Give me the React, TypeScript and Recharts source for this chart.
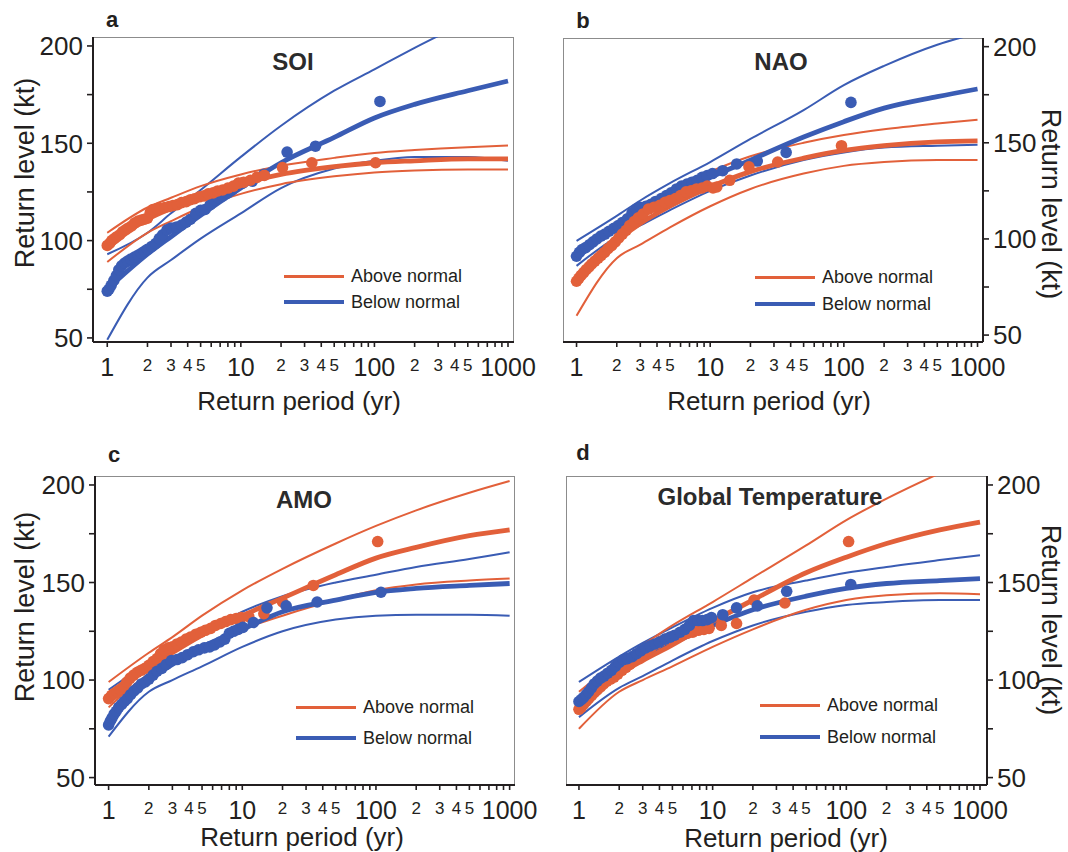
import React from 'react';
import { ComposedChart, Line, Scatter, XAxis, YAxis } from 'recharts';

const ORANGE = '#E2603A';
const BLUE = '#3A5CB4';
const INK = '#231f20';
const FONT = '"Liberation Sans", Arial, Helvetica, sans-serif';

const RETURN_PERIODS = [1, 2, 3, 5, 10, 20, 50, 100, 200, 500, 1000];

const X_TICKS = [1, 2, 3, 4, 5, 6, 7, 8, 9, 10, 20, 30, 40, 50, 60, 70, 80, 90, 100, 200, 300, 400, 500, 600, 700, 800, 900, 1000];
const X_TICK_LABELS = ['1', '2', '3', '4', '5', '', '', '', '', '10', '2', '3', '4', '5', '', '', '', '', '100', '2', '3', '4', '5', '', '', '', '', '1000'];
const X_MAJOR = [1, 10, 100, 1000];
const Y_TICKS = [50, 75, 100, 125, 150, 175, 200];
const Y_TICK_LABELS = ['50', '', '100', '', '150', '', '200'];

// ---- a: SOI ----
const soiAbovePts = [
  [1.0, 97.5], [1.04, 98.5], [1.08, 100], [1.13, 101], [1.18, 102], [1.24, 103], [1.3, 104.5], [1.37, 105.5],
  [1.44, 106.5], [1.52, 107.5], [1.6, 109], [1.7, 110], [1.8, 110.5], [1.9, 111], [2.0, 111.5], [2.1, 114.5],
  [2.2, 116], [2.35, 116.5], [2.5, 116.5], [2.7, 117], [2.9, 117.5], [3.1, 118], [3.35, 118.5], [3.6, 119.5],
  [3.9, 120], [4.2, 121], [4.5, 121.5], [4.9, 122.5], [5.3, 123], [5.7, 124], [6.2, 124.5], [6.7, 125.5],
  [7.3, 126], [8.0, 127], [8.8, 128], [9.6, 129.5], [10.5, 130], [11.8, 131], [13.2, 132.5], [15, 133.5],
  [20.5, 137.5], [34, 140], [102, 140],
];
const soiBelowPts = [
  [1.0, 74], [1.03, 75], [1.07, 77], [1.12, 79.5], [1.17, 82], [1.22, 85], [1.28, 87], [1.35, 88.5],
  [1.42, 89.5], [1.5, 90.5], [1.6, 91.5], [1.7, 92.5], [1.8, 93.5], [1.9, 94.5], [2.0, 95.5], [2.15, 97],
  [2.3, 98.5], [2.45, 101], [2.6, 103], [2.8, 105.5], [3.0, 106.5], [3.3, 107], [3.6, 108], [3.9, 109.5],
  [4.2, 111], [4.6, 114], [5.0, 115.5], [5.4, 116], [5.9, 118.5], [6.3, 121], [6.8, 122], [7.3, 123],
  [8.0, 124.5], [8.6, 126], [9.4, 128.5], [10.3, 129.5], [12.2, 130.5], [14.9, 134], [22.2, 145.5],
  [36.2, 148.5], [110, 171.5],
];
const soiAboveFit = [97, 111, 116.5, 122, 129, 134, 138, 140, 141, 142, 142];
const soiAboveHi = [104, 117, 122, 128, 134, 138.5, 142.5, 145, 146.5, 148, 148.8];
const soiAboveLo = [89, 104, 110, 117, 124, 129, 133, 135, 136, 136.5, 136.5];
const soiBelowFit = [75, 93, 102, 113, 127, 140, 153, 163, 170, 177, 182];
const soiBelowHi = [93, 104, 114, 126, 143, 159, 177, 188, 199, 213, 225];
const soiBelowLo = [49, 81, 90, 101, 114, 127, 137, 141, 143, 143, 141];

// ---- b: NAO ----
const naoAbovePts = [
  [1.0, 78], [1.04, 79.5], [1.08, 81], [1.13, 82.5], [1.18, 84], [1.24, 85.5], [1.3, 87], [1.37, 88.5],
  [1.45, 90], [1.53, 91.5], [1.62, 93], [1.72, 95], [1.83, 96.5], [1.95, 98.5], [2.07, 100.5], [2.2, 102.5],
  [2.35, 104.5], [2.5, 107], [2.7, 109], [2.9, 111], [3.15, 113], [3.45, 115.5], [3.8, 116.5], [4.2, 117.5],
  [4.6, 119], [5.0, 120], [5.5, 121], [6.0, 122.5], [6.6, 124.5], [7.2, 125], [7.9, 126], [8.7, 126.5],
  [9.5, 127.5], [10.5, 126.5], [11.2, 127], [14, 130.5], [19.5, 137.5], [32, 140], [96, 148.5],
];
const naoBelowPts = [
  [1.0, 91], [1.05, 93], [1.1, 94.5], [1.17, 95.5], [1.25, 97], [1.33, 98.5], [1.42, 100], [1.52, 101.5],
  [1.63, 102.5], [1.75, 104], [1.9, 105.5], [2.05, 107], [2.2, 108.5], [2.4, 110.5], [2.6, 113.5], [2.8, 115.5],
  [3.0, 116.5], [3.3, 117], [3.6, 118], [3.9, 119.5], [4.3, 121], [4.7, 122.5], [5.1, 124], [5.6, 126],
  [6.1, 127.5], [6.7, 128.5], [7.3, 129.5], [8.0, 130.5], [8.7, 132], [9.5, 133], [10.4, 134], [12.4, 135.5],
  [15.8, 139], [22.5, 140.5], [37, 145], [113, 171],
];
const naoAboveFit = [79, 99, 108, 117, 127, 135, 142, 146, 148.5, 150.5, 151];
const naoAboveHi = [93, 108, 116, 125, 135, 143, 150, 154, 157, 160, 162];
const naoAboveLo = [60, 90, 97, 106, 117, 126, 134, 138, 140, 141, 141];
const naoBelowFit = [93, 107, 114, 121, 132, 141, 153, 161, 168, 174, 178];
const naoBelowHi = [99, 112, 120, 129, 140, 152, 167, 180, 190, 201, 207];
const naoBelowLo = [86, 101, 107, 115, 125, 133, 141, 145, 147.5, 148.5, 149];

// ---- c: AMO ----
const amoAbovePts = [
  [1.0, 90.5], [1.05, 92], [1.1, 93], [1.16, 94], [1.23, 95], [1.3, 96.5], [1.37, 99], [1.45, 101],
  [1.54, 102.5], [1.64, 104], [1.75, 105], [1.87, 106], [2.0, 107.5], [2.15, 109.5], [2.3, 111], [2.45, 113.5],
  [2.6, 115.5], [2.8, 116.5], [3.0, 117], [3.25, 118.5], [3.5, 119.5], [3.8, 121], [4.1, 122], [4.5, 123.5],
  [4.9, 124.5], [5.3, 125.5], [5.8, 126.5], [6.3, 128], [6.9, 129], [7.5, 130], [8.2, 131], [9.0, 131.5],
  [9.8, 132], [11.2, 132.5], [14.5, 134], [20, 140], [34, 148.5], [103, 171],
];
const amoBelowPts = [
  [1.0, 77], [1.03, 79], [1.06, 80.5], [1.1, 82.5], [1.14, 84], [1.19, 86], [1.25, 87.5], [1.31, 89],
  [1.38, 90.5], [1.46, 92.5], [1.55, 94.5], [1.65, 96], [1.76, 98], [1.88, 99], [2.0, 100.5], [2.15, 102.5],
  [2.3, 104.5], [2.5, 106], [2.7, 108], [2.95, 110], [3.25, 110.5], [3.55, 111.5], [3.9, 113], [4.3, 114.5],
  [4.7, 115.5], [5.2, 116.5], [5.7, 117], [6.2, 118], [6.8, 119.5], [7.4, 121], [8.0, 124], [8.6, 125],
  [9.3, 126], [10.1, 127], [12.1, 129.5], [15.3, 137], [21.3, 138], [36.3, 140], [109, 145],
];
const amoAboveFit = [93, 107, 114, 123, 133, 142, 154, 162.5, 168, 174, 177];
const amoAboveHi = [99, 114, 122, 133, 146, 157, 170, 179, 187, 196, 202];
const amoAboveLo = [86, 103, 109, 117, 126, 133, 141, 146, 149, 151, 152];
const amoBelowFit = [81, 100, 108, 117, 126, 135, 141, 145, 147, 148.5, 149.5];
const amoBelowHi = [95, 109, 116, 124, 135, 143, 150, 154, 158, 162, 165.5];
const amoBelowLo = [71, 94, 100, 107, 117, 125, 131, 133, 133.5, 133.5, 133];

// ---- d: Global Temperature ----
const gtAbovePts = [
  [1.0, 85], [1.04, 86], [1.08, 87.5], [1.13, 89], [1.18, 90.5], [1.24, 92], [1.3, 93.5], [1.37, 95],
  [1.45, 96.5], [1.53, 98], [1.62, 99.5], [1.72, 100.5], [1.83, 101.5], [1.95, 103], [2.1, 105], [2.25, 106.5],
  [2.4, 108], [2.6, 110], [2.8, 111.5], [3.0, 113], [3.25, 115], [3.5, 117], [3.8, 118.5], [4.1, 120],
  [4.5, 121], [4.9, 122], [5.4, 123], [5.9, 123.5], [6.5, 124], [7.1, 124.5], [7.8, 125.5], [8.6, 126],
  [9.4, 126.5], [11.6, 128], [15.1, 129], [20.4, 141], [34.7, 139.5], [104, 171],
];
const gtBelowPts = [
  [1.0, 89], [1.04, 90], [1.08, 91], [1.13, 92.5], [1.18, 94], [1.24, 96], [1.3, 98], [1.37, 99.5],
  [1.45, 101], [1.54, 102], [1.64, 103.5], [1.75, 105], [1.87, 107], [2.0, 109], [2.15, 110.5], [2.3, 111],
  [2.5, 112], [2.7, 113.5], [2.9, 115], [3.15, 116.5], [3.4, 117.5], [3.7, 118.5], [4.0, 119.5], [4.4, 121],
  [4.8, 122], [5.2, 123], [5.7, 124.5], [6.2, 126], [6.7, 128], [7.2, 130.5], [7.8, 130.5], [8.4, 130.5],
  [9.1, 131], [9.8, 132], [11.9, 133.5], [15.1, 137], [21.6, 138], [35.8, 145.5], [108, 149],
];
const gtAboveFit = [87, 103, 110, 118, 130, 141, 155, 163, 170, 177, 181];
const gtAboveHi = [94, 110, 118, 128, 140, 152.5, 169, 182, 193, 206, 215];
const gtAboveLo = [75, 94, 100, 107, 117, 126, 136, 141, 143.5, 144.5, 144];
const gtBelowFit = [90, 106, 112, 119, 128, 136, 143, 147, 149.5, 151, 152];
const gtBelowHi = [99, 112, 119, 127, 137, 145, 151, 155, 158, 161.5, 164];
const gtBelowLo = [81, 96, 102, 110, 120, 128, 135, 138.5, 140, 141, 141];

const toPts = (arr: number[][]) => arr.map(([x, y]) => ({ x, y }));
const toCurve = (vals: number[]) => RETURN_PERIODS.map((x, i) => ({ x, y: vals[i] }));

const PANELS = [
  {
    id: 'a', title: 'SOI', chartLeft: 0, chartTop: 0, box: { l: 93, t: 37, r: 514, b: 342 }, yOrient: 'left',
    xDomain: [0.782, 1109], yDomain: [47.9, 204.6], orangeOnTop: true,
    above: { pts: soiAbovePts, fit: soiAboveFit, hi: soiAboveHi, lo: soiAboveLo },
    below: { pts: soiBelowPts, fit: soiBelowFit, hi: soiBelowHi, lo: soiBelowLo },
    letter: [112, 20], titleAt: [293, 62], legend: [284, 276, 302], xTitle: [299, 401], yTitle: [25, 173],
  },
  {
    id: 'b', title: 'NAO', chartLeft: 534, chartTop: 0, box: { l: 563, t: 38, r: 983, b: 342 }, yOrient: 'right',
    xDomain: [0.792, 1099], yDomain: [46.4, 204.5], orangeOnTop: true,
    above: { pts: naoAbovePts, fit: naoAboveFit, hi: naoAboveHi, lo: naoAboveLo },
    below: { pts: naoBelowPts, fit: naoBelowFit, hi: naoBelowHi, lo: naoBelowLo },
    letter: [583, 21], titleAt: [781, 62], legend: [755, 277, 304], xTitle: [769, 401], yTitle: [1050, 204],
  },
  {
    id: 'c', title: 'AMO', chartLeft: 0, chartTop: 426, box: { l: 95, t: 476, r: 515, b: 785 }, yOrient: 'left',
    xDomain: [0.791, 1097], yDomain: [46.2, 204.6], orangeOnTop: false,
    above: { pts: amoAbovePts, fit: amoAboveFit, hi: amoAboveHi, lo: amoAboveLo },
    below: { pts: amoBelowPts, fit: amoBelowFit, hi: amoBelowHi, lo: amoBelowLo },
    letter: [114, 455], titleAt: [304, 500], legend: [296, 707, 738], xTitle: [302, 837], yTitle: [25, 607],
  },
  {
    id: 'd', title: 'Global Temperature', chartLeft: 534, chartTop: 426, box: { l: 566, t: 476, r: 987, b: 785 }, yOrient: 'right',
    xDomain: [0.8, 1128], yDomain: [46.2, 204.6], orangeOnTop: false,
    above: { pts: gtAbovePts, fit: gtAboveFit, hi: gtAboveHi, lo: gtAboveLo },
    below: { pts: gtBelowPts, fit: gtBelowFit, hi: gtBelowHi, lo: gtBelowLo },
    letter: [583, 453], titleAt: [770, 497], legend: [760, 705, 737], xTitle: [786, 838], yTitle: [1050, 620],
  },
];

const W = 534;
const H = 426;
const YW = 60;
const XH = 40;
const EXTRA = 30; // extra room on the right of left-hand charts so "1000" is not clipped

const renderXTick = (props: any) => {
  const { x, y, payload } = props;
  const i = X_TICKS.indexOf(payload.value);
  const label = i >= 0 ? X_TICK_LABELS[i] : '';
  if (!label) return <g />;
  const major = X_MAJOR.includes(payload.value);
  return (
    <text x={x} y={y + (major ? 27 : 22)} textAnchor="middle" fontSize={major ? 25 : 17} fill={INK} fontFamily={FONT}>
      {label}
    </text>
  );
};

const makeYTick = (orient: string) => (props: any) => {
  const { x, y, payload } = props;
  const i = Y_TICKS.indexOf(payload.value);
  const label = i >= 0 ? Y_TICK_LABELS[i] : '';
  if (!label) return <g />;
  return (
    <text x={x} y={y} dy="0.36em" textAnchor={orient === 'left' ? 'end' : 'start'} fontSize={26} fill={INK} fontFamily={FONT}>
      {label}
    </text>
  );
};

const dot = (color: string) => (p: any) => <circle cx={p.cx} cy={p.cy} r={5.8} fill={color} />;

function Panel({ cfg }: { cfg: any }) {
  const { chartLeft, chartTop, box, yOrient, xDomain, yDomain } = cfg;
  const width = yOrient === 'left' ? W + EXTRA : W;
  const margin =
    yOrient === 'left'
      ? { left: box.l - chartLeft - YW, right: chartLeft + width - box.r, top: box.t - chartTop, bottom: chartTop + H - box.b - XH }
      : { left: box.l - chartLeft, right: chartLeft + width - box.r - YW, top: box.t - chartTop, bottom: chartTop + H - box.b - XH };

  const thin = (vals: number[], color: string, key: string) => (
    <Line key={key} data={toCurve(vals)} dataKey="y" type="monotone" stroke={color} strokeWidth={2}
      dot={false} activeDot={false} isAnimationActive={false} />
  );
  const thick = (vals: number[], color: string, key: string) => (
    <Line key={key} data={toCurve(vals)} dataKey="y" type="monotone" stroke={color} strokeWidth={4.8}
      dot={false} activeDot={false} isAnimationActive={false} />
  );
  const orangeDots = (
    <Scatter key="ad" data={toPts(cfg.above.pts)} dataKey="y" shape={dot(ORANGE)} isAnimationActive={false} />
  );
  const blueDots = (
    <Scatter key="bd" data={toPts(cfg.below.pts)} dataKey="y" shape={dot(BLUE)} isAnimationActive={false} />
  );

  return (
    <>
      {/* light frame on top and far side */}
      <div style={{ position: 'absolute', left: box.l, top: box.t, width: box.r - box.l, height: box.b - box.t,
        border: '1.2px solid #8c8c8c', boxSizing: 'border-box' }} />
      <div style={{ position: 'absolute', left: chartLeft, top: chartTop }}>
        <ComposedChart width={width} height={H} margin={margin}>
          <XAxis dataKey="x" type="number" scale="log" domain={xDomain} allowDataOverflow ticks={X_TICKS} interval={0}
            tick={renderXTick} tickSize={5} tickMargin={2} height={XH}
            tickLine={{ stroke: INK, strokeWidth: 1.6 }} axisLine={{ stroke: INK, strokeWidth: 2 }} />
          <YAxis dataKey="y" type="number" orientation={yOrient} domain={yDomain} allowDataOverflow ticks={Y_TICKS} interval={0}
            tick={makeYTick(yOrient)} tickSize={6} tickMargin={4} width={YW}
            tickLine={{ stroke: INK, strokeWidth: 1.6 }} axisLine={{ stroke: INK, strokeWidth: 2 }} />
          {thin(cfg.below.hi, BLUE, 'bh')}
          {thin(cfg.below.lo, BLUE, 'bl')}
          {thin(cfg.above.hi, ORANGE, 'ah')}
          {thin(cfg.above.lo, ORANGE, 'al')}
          {thick(cfg.below.fit, BLUE, 'bf')}
          {thick(cfg.above.fit, ORANGE, 'af')}
          {cfg.orangeOnTop ? blueDots : orangeDots}
          {cfg.orangeOnTop ? orangeDots : blueDots}
        </ComposedChart>
      </div>
    </>
  );
}

const abs = (x: number, y: number, extra: any = {}) => ({
  position: 'absolute' as const, left: x, top: y, transform: 'translate(-50%, -50%)', whiteSpace: 'nowrap' as const,
  fontFamily: FONT, color: INK, lineHeight: 1, ...extra,
});

function Overlay({ cfg }: { cfg: any }) {
  const [lx, ly1, ly2] = cfg.legend;
  const rotate = cfg.yOrient === 'left' ? -90 : 90;
  const legendText = { position: 'absolute' as const, left: lx + 67, transform: 'translateY(-50%)', fontFamily: FONT,
    fontSize: 18, color: INK, lineHeight: 1, whiteSpace: 'nowrap' as const };
  return (
    <>
      <div style={abs(cfg.letter[0], cfg.letter[1], { fontSize: 22, fontWeight: 'bold' })}>{cfg.id}</div>
      <div style={abs(cfg.titleAt[0], cfg.titleAt[1], { fontSize: 24, fontWeight: 'bold', color: '#2b2b2b' })}>{cfg.title}</div>
      <div style={abs(cfg.xTitle[0], cfg.xTitle[1], { fontSize: 26 })}>Return period (yr)</div>
      <div style={abs(cfg.yTitle[0], cfg.yTitle[1], { fontSize: 27, transform: `translate(-50%, -50%) rotate(${rotate}deg)` })}>
        Return level (kt)
      </div>
      <div style={{ position: 'absolute', left: lx, top: ly1 - 1.5, width: 60, height: 3, background: ORANGE }} />
      <div style={{ ...legendText, top: ly1 }}>Above normal</div>
      <div style={{ position: 'absolute', left: lx, top: ly2 - 2, width: 60, height: 4, background: BLUE }} />
      <div style={{ ...legendText, top: ly2 }}>Below normal</div>
    </>
  );
}

export default function App() {
  return (
    <div style={{ position: 'absolute', left: 0, top: 0, width: 1068, height: 852, background: '#fff', overflow: 'hidden' }}>
      {PANELS.map((p) => (
        <React.Fragment key={p.id}>
          <Panel cfg={p} />
          <Overlay cfg={p} />
        </React.Fragment>
      ))}
    </div>
  );
}
